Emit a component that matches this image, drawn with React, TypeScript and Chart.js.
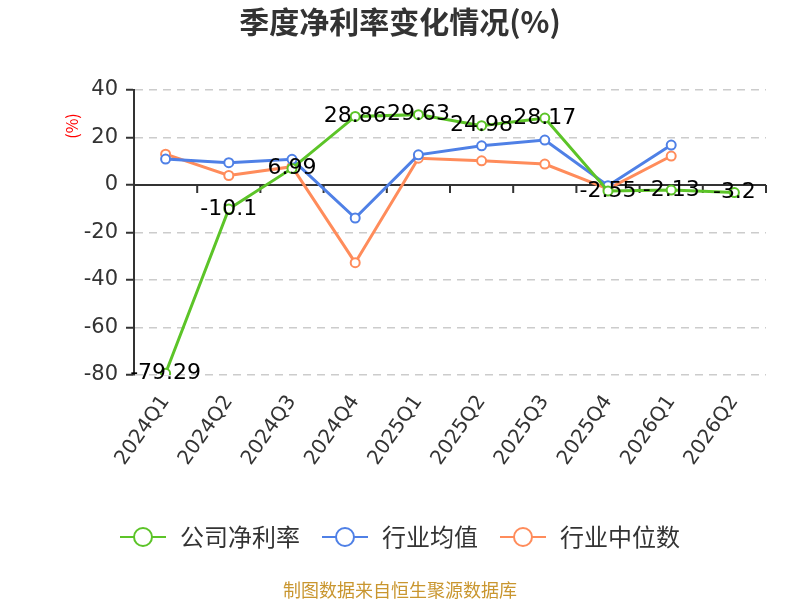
import React, { useEffect, useRef } from "react";
import { Chart, registerables } from "chart.js";
Chart.register(...registerables);

/** ---------- Data ---------- */
const quarters = [
  "2024Q1", "2024Q2", "2024Q3", "2024Q4", "2025Q1",
  "2025Q2", "2025Q3", "2025Q4", "2026Q1", "2026Q2",
];
const companyMargin = [-79.29, -10.1, 6.99, 28.86, 29.63, 24.98, 28.17, -2.55, -2.13, -3.2];
const industryAvg = [10.9, 9.4, 10.8, -13.9, 12.7, 16.5, 18.9, -0.3, 16.8, null];
const industryMedian = [13.0, 4.0, 7.7, -32.7, 11.3, 10.2, 8.8, -1.6, 12.2, null];
const seriesNames = ["公司净利率", "行业均值", "行业中位数"];
const seriesColors = ["#5cc428", "#4f80e6", "#ff8c5b"];

const CJK = '"Noto Sans CJK SC", "Noto Sans", sans-serif';
const NUM = '"DejaVu Sans", "Noto Sans CJK SC", sans-serif';

/** ---------- Plugins ---------- */
// axis line drawn at zero with tick marks at category boundaries
const zeroAxisPlugin = {
  id: "zero-axis",
  beforeDatasetsDraw(chart: any) {
    const { ctx, chartArea, scales } = chart;
    const y0 = scales.y.getPixelForValue(0);
    const n = quarters.length;
    const step = (chartArea.right - chartArea.left) / n;
    ctx.save();
    ctx.strokeStyle = "#333";
    ctx.lineWidth = 2;
    ctx.beginPath();
    ctx.moveTo(chartArea.left, y0);
    ctx.lineTo(chartArea.right, y0);
    for (let i = 1; i <= n; i++) {
      const x = chartArea.left + i * step;
      ctx.moveTo(x, y0);
      ctx.lineTo(x, y0 + 8);
    }
    ctx.stroke();
    ctx.restore();
  },
};

// value labels for the company series, centred on each point
const valueLabelPlugin = {
  id: "value-labels",
  afterDatasetsDraw(chart: any) {
    const { ctx } = chart;
    const meta = chart.getDatasetMeta(0);
    ctx.save();
    ctx.font = `22px ${NUM}`;
    ctx.fillStyle = "#000";
    ctx.textAlign = "center";
    ctx.textBaseline = "middle";
    meta.data.forEach((pt: any, i: number) => {
      const v = companyMargin[i];
      if (v == null) return;
      ctx.fillText(String(v), pt.x, pt.y);
    });
    ctx.restore();
  },
};

// title, unit label, legend and source note
const decorPlugin = {
  id: "decor",
  afterDraw(chart: any) {
    const { ctx } = chart;
    ctx.save();
    // title
    ctx.font = `bold 30px ${CJK}`;
    ctx.fillStyle = "#333";
    ctx.textAlign = "center";
    ctx.textBaseline = "middle";
    ctx.fillText("季度净利率变化情况(%)", 400, 22);

    // unit
    ctx.save();
    ctx.translate(72, 126);
    ctx.rotate(-Math.PI / 2);
    ctx.font = `16px ${CJK}`;
    ctx.fillStyle = "#ff0000";
    ctx.fillText("(%)", 0, 0);
    ctx.restore();

    // legend
    ctx.font = `24px ${CJK}`;
    const symW = 46;
    const gapText = 14;
    const gapItem = 22;
    const widths = seriesNames.map((s) => symW + gapText + ctx.measureText(s).width);
    const total = widths.reduce((a, b) => a + b, 0) + gapItem * (widths.length - 1);
    let x = 400 - total / 2;
    const ly = 537;
    seriesNames.forEach((name, i) => {
      ctx.strokeStyle = seriesColors[i];
      ctx.lineWidth = 2;
      ctx.beginPath();
      ctx.moveTo(x, ly);
      ctx.lineTo(x + symW, ly);
      ctx.stroke();
      ctx.beginPath();
      ctx.arc(x + symW / 2, ly, 9, 0, Math.PI * 2);
      ctx.fillStyle = "#fff";
      ctx.fill();
      ctx.stroke();
      ctx.fillStyle = "#333";
      ctx.textAlign = "left";
      ctx.fillText(name, x + symW + gapText, ly);
      x += widths[i] + gapItem;
    });

    // source
    ctx.font = `18px ${CJK}`;
    ctx.fillStyle = "#c9962f";
    ctx.textAlign = "center";
    ctx.fillText("制图数据来自恒生聚源数据库", 400, 590);
    ctx.restore();
  },
};

/** ---------- Component ---------- */
export default function App() {
  const canvasRef = useRef<HTMLCanvasElement | null>(null);

  useEffect(() => {
    document.body.style.margin = "0";
    const canvas = canvasRef.current;
    if (!canvas) return;

    const mk = (label: string, data: (number | null)[], color: string) => ({
      label,
      data,
      borderColor: color,
      backgroundColor: color,
      borderWidth: 3,
      pointRadius: 4.5,
      pointBorderWidth: 2,
      pointBackgroundColor: "#fff",
      pointBorderColor: color,
      tension: 0,
      spanGaps: false,
    });

    const chart = new Chart(canvas, {
      type: "line",
      data: {
        labels: quarters,
        datasets: [
          mk(seriesNames[0], companyMargin, seriesColors[0]),
          mk(seriesNames[1], industryAvg, seriesColors[1]),
          mk(seriesNames[2], industryMedian, seriesColors[2]),
        ],
      },
      options: {
        responsive: false,
        animation: false,
        layout: { padding: { top: 90, right: 34, left: 0, bottom: 0 } },
        plugins: {
          legend: { display: false },
          title: { display: false },
          tooltip: { enabled: false },
        },
        scales: {
          x: {
            offset: true,
            grid: { display: false },
            border: { display: false },
            ticks: {
              color: "#333",
              font: { size: 20, family: NUM },
              minRotation: 55,
              maxRotation: 55,
              padding: 8,
              autoSkip: false,
            },
            afterFit: (s: any) => {
              s.height = 225;
            },
          },
          y: {
            min: -80,
            max: 40,
            grid: {
              color: "#cccccc",
              lineWidth: 1.5,
              tickColor: "#333",
              tickLength: 8,
              tickWidth: 2,
              tickBorderDash: [],
            },
            border: { display: true, color: "#333", width: 2, dash: [8, 6] },
            ticks: {
              stepSize: 20,
              color: "#333",
              padding: 8,
              font: { size: 21, family: NUM },
            },
            afterFit: (s: any) => {
              s.width = 134;
            },
          },
        },
      },
      plugins: [zeroAxisPlugin, valueLabelPlugin, decorPlugin],
    });

    return () => chart.destroy();
  }, []);

  return (
    <div style={{ width: 800, height: 600, background: "#fff" }}>
      <canvas ref={canvasRef} width={800} height={600} style={{ display: "block" }} />
    </div>
  );
}
